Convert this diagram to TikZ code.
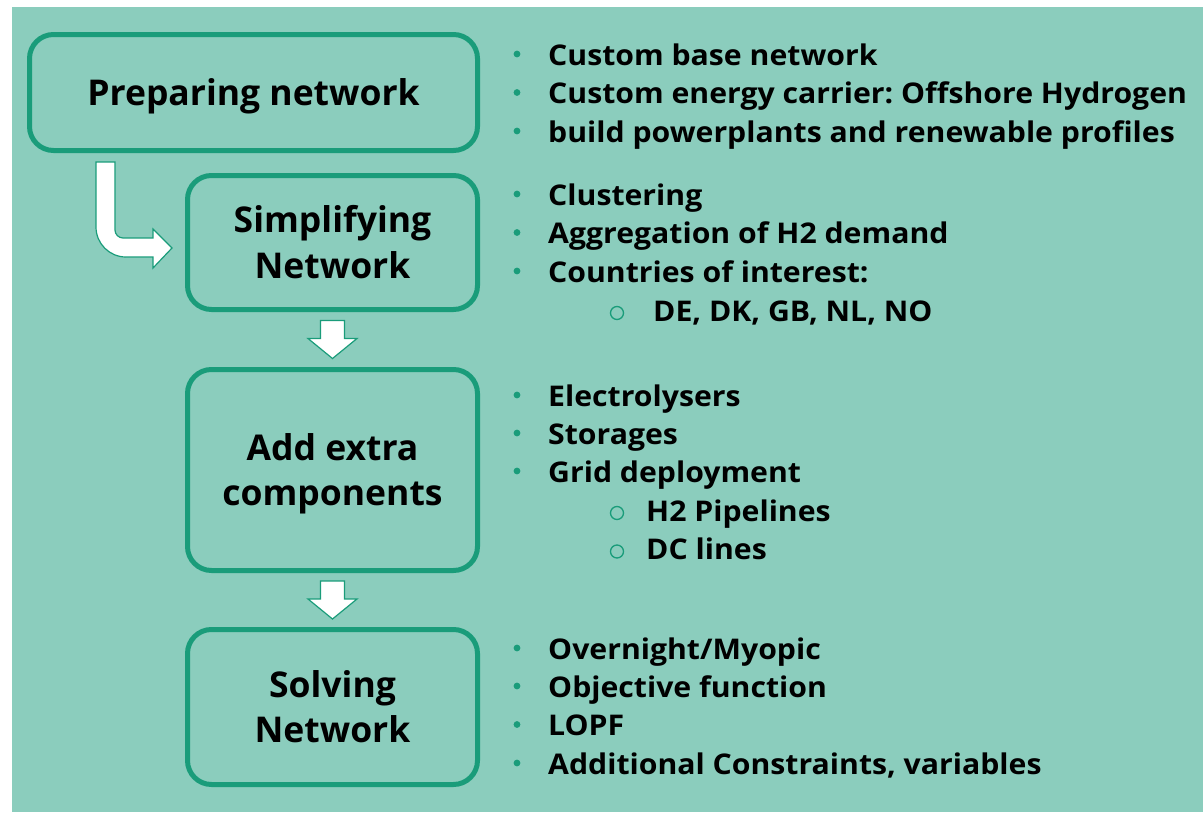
\documentclass[tikz,border=0pt]{standalone}
\usepackage{fontspec}
\setmainfont{Open Sans}
\usetikzlibrary{calc}
\definecolor{bgc}{RGB}{139,205,189}
\definecolor{edge}{RGB}{26,156,122}
\frenchspacing
\tikzset{
  box/.style={draw=edge, line width=5pt, rounded corners=24pt, align=center,
    font=\fontsize{35.5}{45.5}\selectfont\bfseries, inner sep=0pt, text height=25.5pt, text depth=0pt},
  twoline/.style={text height=71pt, text depth=0pt},
  item/.style={anchor=base west, inner sep=0pt, font=\fontsize{28.5}{32}\selectfont\bfseries\frenchspacing},
  dot/.style={fill=edge},
  ring/.style={draw=edge, line width=1.3pt},
  blockarrow/.style={fill=white, draw=edge, line width=1.2pt, line join=miter}
}
\newcommand{\wide}[1]{\scalebox{1.06}[1]{#1}}
\begin{document}
\begin{tikzpicture}[x=1pt,y=-1pt]
\useasboundingbox (0,0) rectangle (1203,814);
\fill[bgc] (12,7) rectangle (1203,812);

% boxes
\node[box, minimum width=448, minimum height=116] (prep) at (253.5,92.5) {Preparing network};
\node[box, twoline, minimum width=290, minimum height=134] (simp) at (332.5,242.5) {Simplifying\\Network};
\node[box, twoline, minimum width=290, minimum height=201] (add) at (332.5,470) {Add extra\\components};
\node[box, twoline, minimum width=290, minimum height=155] (solve) at (332.5,707) {Solving\\Network};

% down arrows between boxes
\foreach \a/\b/\n in {simp/add/m1, add/solve/m2}{
  \coordinate (\n) at ($(\a.south)!0.5!(\b.north)$);
  \draw[blockarrow] ($(\n)+(-12,-19)$) -- ($(\n)+(12,-19)$) -- ($(\n)+(12,-1)$) -- ($(\n)+(24.5,-1)$)
     -- ($(\n)+(0,19)$) -- ($(\n)+(-24.5,-1)$) -- ($(\n)+(-12,-1)$) -- cycle;
}

% bent arrow from prep to simp
\draw[blockarrow] (96,162) -- (115,162) -- (115,230) .. controls (115,234.4) and (118.6,238) .. (123,238)
   -- (153,238) -- (153,229) -- (172,248) -- (153,268) -- (153,257) -- (126,257)
   .. controls (109.4,257) and (96,243.6) .. (96,227) -- cycle;

% bullet lists
\foreach \t/\y/\n in {Custom base network/65/p1, Custom energy carrier: Offshore Hydrogen/103.5/p2, build powerplants and renewable profiles/142/p3,
  Clustering/205/s1, Aggregation of H2 demand/243.5/s2, Countries of interest:/282/s3,
  Electrolysers/406/a1, Storages/444/a2, Grid deployment/482/a3,
  {Overnight/Myopic}/659/o1, Objective function/697/o2, LOPF/735.5/o3, {Additional Constraints, variables}/774/o4}{
  \node[item] (\n) at (548,\y) {\wide{\t}};
  \fill[dot] (517,\y-11) circle (3.4);
}
\foreach \t/\y/\x/\n in {{DE, DK, GB, NL, NO}/321/653/s4, H2 Pipelines/521/646/a4, DC lines/559.5/646/a5}{
  \node[item] (\n) at (\x,\y) {\wide{\t}};
  \draw[ring] (617,\y-8) circle (6.5);
}
\end{tikzpicture}
\end{document}
